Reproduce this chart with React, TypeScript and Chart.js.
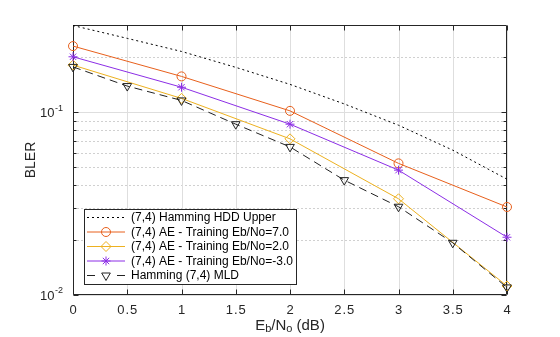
import React, { useEffect, useRef } from 'react';
import { Chart, registerables } from 'chart.js';
import { drawPoint } from 'chart.js/helpers';

Chart.register(...registerables);

// ---- data ----
const snrHalf = [0, 0.5, 1, 1.5, 2, 2.5, 3, 3.5, 4];
const snrInt = [0, 1, 2, 3, 4];
const hddUpper = [0.298, 0.2535, 0.215, 0.176, 0.142, 0.111, 0.0849, 0.062, 0.043];
const ae7 = [0.23, 0.157, 0.1017, 0.0525, 0.0303];
const ae2 = [0.181, 0.119, 0.0715, 0.0336, 0.0112];
const aeM3 = [0.201, 0.137, 0.086, 0.0482, 0.0207];
const mld = [0.177, 0.139, 0.116, 0.086, 0.0646, 0.0425, 0.0304, 0.0193, 0.011];

const xTicks = [0, 0.5, 1, 1.5, 2, 2.5, 3, 3.5, 4];
const xTickLabels = ['0', '0.5', '1', '1.5', '2', '2.5', '3', '3.5', '4'];
const yMajor = [0.01, 0.1];
const yMajorBase = ['10', '10'];
const yMajorExp = ['-2', '-1'];
const yMinor = [0.02, 0.03, 0.04, 0.05, 0.06, 0.07, 0.08, 0.09, 0.2];

const seriesLabels = [
  '(7,4) Hamming HDD Upper',
  '(7,4) AE - Training Eb/No=7.0',
  '(7,4) AE - Training Eb/No=2.0',
  '(7,4) AE - Training Eb/No=-3.0',
  'Hamming (7,4) MLD',
];

const FONT = '"Liberation Sans", Arial, Helvetica, sans-serif';
const AX = '#262626';
const C_ORANGE = '#E8601C';
const C_YELLOW = '#EDB120';
const C_PURPLE = '#8C2EE6';
const C_BLACK = '#000000';

const pts = (xs: number[], ys: number[]) => xs.map((x, i) => ({ x, y: ys[i] }));

type Style = {
  color: string;
  dash: number[];
  legendDash: number[];
  pointStyle: any;
  radius: number;
  rotation: number;
};

const styles: Style[] = [
  { color: C_BLACK, dash: [2, 3], legendDash: [2, 3], pointStyle: false, radius: 0, rotation: 0 },
  { color: C_ORANGE, dash: [], legendDash: [], pointStyle: 'circle', radius: 4.5, rotation: 0 },
  { color: C_YELLOW, dash: [], legendDash: [], pointStyle: 'rectRot', radius: 5, rotation: 0 },
  { color: C_PURPLE, dash: [], legendDash: [], pointStyle: 'star', radius: 4.5, rotation: 0 },
  { color: '#222222', dash: [8, 5], legendDash: [8, 22], pointStyle: 'triangle', radius: 5, rotation: 180 },
];

const setSpacing = (ctx: any, v: string) => {
  if ('letterSpacing' in ctx) ctx.letterSpacing = v;
};

const axesPlugin = {
  id: 'matlabAxes',
  beforeDraw(chart: any) {
    const { ctx, width, height } = chart;
    ctx.save();
    ctx.fillStyle = '#ffffff';
    ctx.fillRect(0, 0, width, height);
    ctx.restore();
  },
  beforeDatasetsDraw(chart: any) {
    const { ctx, chartArea: a, scales } = chart;
    const xs = scales.x;
    const ys = scales.y;
    ctx.save();
    ctx.lineWidth = 1;
    // minor y grid (dotted)
    ctx.strokeStyle = '#d0d0d0';
    ctx.setLineDash([2, 2]);
    for (const v of yMinor) {
      const y = Math.round(ys.getPixelForValue(v)) + 0.5;
      ctx.beginPath();
      ctx.moveTo(a.left, y);
      ctx.lineTo(a.right, y);
      ctx.stroke();
    }
    ctx.setLineDash([]);
    // major grid
    ctx.strokeStyle = '#dedede';
    for (const v of yMajor) {
      const y = Math.round(ys.getPixelForValue(v)) + 0.5;
      ctx.beginPath();
      ctx.moveTo(a.left, y);
      ctx.lineTo(a.right, y);
      ctx.stroke();
    }
    for (const v of xTicks) {
      const x = Math.round(xs.getPixelForValue(v)) + 0.5;
      ctx.beginPath();
      ctx.moveTo(x, a.top);
      ctx.lineTo(x, a.bottom);
      ctx.stroke();
    }
    // box
    ctx.strokeStyle = AX;
    const L = Math.round(a.left) + 0.5;
    const R = Math.round(a.right) - 0.5;
    const T = Math.round(a.top) + 0.5;
    const B = Math.round(a.bottom) - 0.5;
    ctx.beginPath();
    ctx.rect(L, T, R - L, B - T);
    ctx.stroke();
    // ticks
    ctx.beginPath();
    for (const v of xTicks) {
      const x = Math.round(xs.getPixelForValue(v)) + 0.5;
      ctx.moveTo(x, B);
      ctx.lineTo(x, B - 5);
      ctx.moveTo(x, T);
      ctx.lineTo(x, T + 5);
    }
    for (const v of yMajor) {
      const y = Math.round(ys.getPixelForValue(v)) + 0.5;
      ctx.moveTo(L, y);
      ctx.lineTo(L + 5, y);
      ctx.moveTo(R, y);
      ctx.lineTo(R - 5, y);
    }
    for (const v of yMinor) {
      const y = Math.round(ys.getPixelForValue(v)) + 0.5;
      ctx.moveTo(L, y);
      ctx.lineTo(L + 3, y);
      ctx.moveTo(R, y);
      ctx.lineTo(R - 3, y);
    }
    ctx.stroke();

    // x tick labels
    ctx.fillStyle = AX;
    ctx.font = `13px ${FONT}`;
    setSpacing(ctx, '1px');
    ctx.textAlign = 'center';
    ctx.textBaseline = 'middle';
    xTicks.forEach((v, i) => {
      ctx.fillText(xTickLabels[i], xs.getPixelForValue(v) + 0.5, 310);
    });
    setSpacing(ctx, '0px');
    // y tick labels with superscript
    yMajor.forEach((v, i) => {
      const y = ys.getPixelForValue(v);
      ctx.font = `9px ${FONT}`;
      const we = ctx.measureText(yMajorExp[i]).width;
      ctx.textAlign = 'right';
      const right = a.left - 10;
      ctx.fillText(yMajorExp[i], right, y - 4);
      ctx.font = `13px ${FONT}`;
      ctx.fillText(yMajorBase[i], right - we - 0.5, y + 1.5);
    });
    // x title E_b/N_o (dB)
    const parts: [string, number, number][] = [
      ['E', 15, 0],
      ['b', 11, 3],
      ['/N', 15, 0],
      ['o', 11, 3],
      [' (dB)', 15, 0],
    ];
    let total = 0;
    for (const [t, s] of parts) {
      ctx.font = `${s}px ${FONT}`;
      total += ctx.measureText(t).width;
    }
    let cx = (a.left + a.right) / 2 - total / 2;
    ctx.textAlign = 'left';
    for (const [t, s, dy] of parts) {
      ctx.font = `${s}px ${FONT}`;
      ctx.fillText(t, cx, 326 + dy);
      cx += ctx.measureText(t).width;
    }
    // y title
    ctx.save();
    ctx.translate(31, (a.top + a.bottom) / 2);
    ctx.rotate(-Math.PI / 2);
    ctx.font = `14px ${FONT}`;
    ctx.textAlign = 'center';
    ctx.fillText('BLER', 0, 0);
    ctx.restore();
    ctx.restore();
  },
  afterDatasetsDraw(chart: any) {
    const { ctx } = chart;
    ctx.save();
    const bx = 84.5, by = 209.5, bw = 212, bh = 75;
    ctx.fillStyle = '#ffffff';
    ctx.fillRect(bx, by, bw, bh);
    ctx.strokeStyle = AX;
    ctx.lineWidth = 1;
    ctx.strokeRect(bx, by, bw, bh);
    const rowY = [217.5, 232, 246.5, 261, 275.5];
    seriesLabels.forEach((lab, i) => {
      const st = styles[i];
      const y = rowY[i];
      ctx.strokeStyle = st.color;
      ctx.lineWidth = 1;
      ctx.setLineDash(st.legendDash);
      ctx.beginPath();
      ctx.moveTo(87, y);
      ctx.lineTo(125, y);
      ctx.stroke();
      ctx.setLineDash([]);
      if (st.pointStyle) {
        ctx.fillStyle = 'rgba(0,0,0,0)';
        ctx.strokeStyle = st.color;
        drawPoint(ctx, { pointStyle: st.pointStyle, radius: st.radius, rotation: st.rotation, borderWidth: 1 } as any, 106, y);
      }
      ctx.fillStyle = '#000000';
      ctx.font = `12px ${FONT}`;
      ctx.textAlign = 'left';
      ctx.textBaseline = 'middle';
      ctx.fillText(lab, 131, y + 0.5);
    });
    ctx.restore();
  },
};

export default function App() {
  const ref = useRef<HTMLCanvasElement | null>(null);
  useEffect(() => {
    if (!ref.current) return;
    const seriesData = [
      pts(snrHalf, hddUpper),
      pts(snrInt, ae7),
      pts(snrInt, ae2),
      pts(snrInt, aeM3),
      pts(snrHalf, mld),
    ];
    const orders = [4, 3, 2, 1, 0];
    const chart = new Chart(ref.current, {
      type: 'line',
      data: {
        datasets: seriesData.map((d, i) => ({
          label: seriesLabels[i],
          data: d,
          borderColor: styles[i].color,
          backgroundColor: 'rgba(0,0,0,0)',
          borderWidth: 1,
          borderDash: styles[i].dash,
          pointStyle: styles[i].pointStyle,
          pointRadius: styles[i].radius,
          pointRotation: styles[i].rotation,
          pointBorderColor: styles[i].color,
          pointBackgroundColor: 'rgba(0,0,0,0)',
          pointBorderWidth: 1,
          tension: 0,
          fill: false,
          clip: false as any,
          order: orders[i],
        })),
      },
      options: {
        animation: false,
        responsive: false,
        devicePixelRatio: 1,
        layout: { padding: { left: 73, right: 53, top: 25, bottom: 42 } },
        plugins: { legend: { display: false }, tooltip: { enabled: false } },
        scales: {
          x: { type: 'linear', min: 0, max: 4, display: false },
          y: { type: 'logarithmic', min: 0.01, max: 0.3, display: false },
        },
      },
      plugins: [axesPlugin],
    });
    return () => chart.destroy();
  }, []);
  return (
    <div style={{ position: 'absolute', left: 0, top: 0, width: 560, height: 337 }}>
      <canvas ref={ref} width={560} height={337} style={{ width: 560, height: 337, display: 'block' }} />
    </div>
  );
}
